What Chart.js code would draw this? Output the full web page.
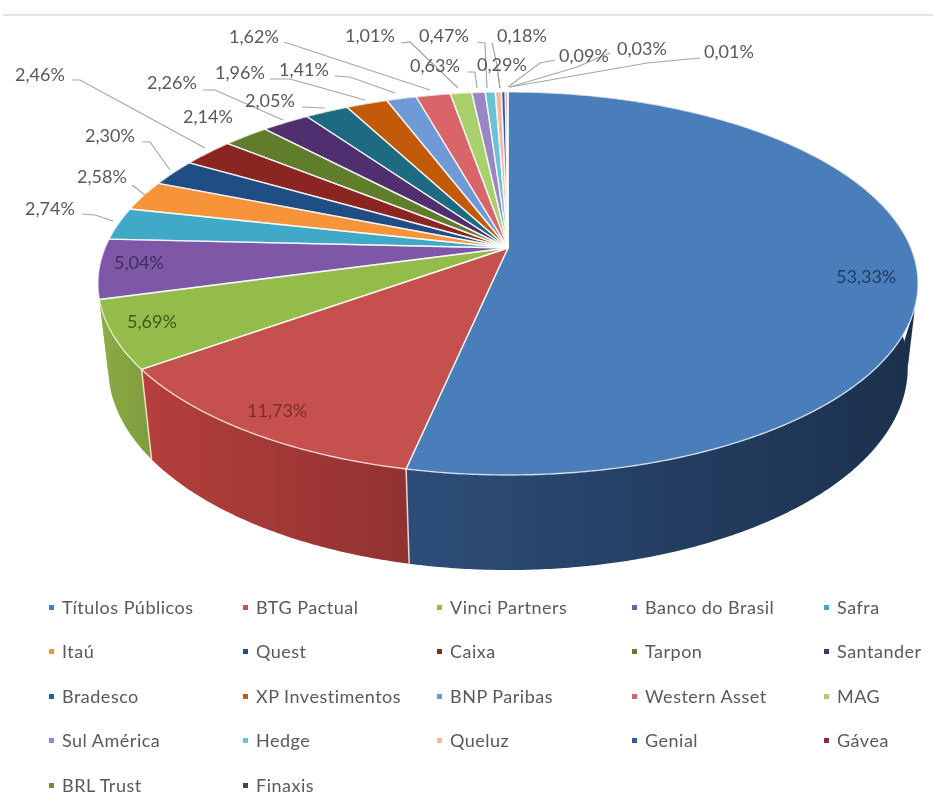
<!DOCTYPE html>
<html>
<head>
<meta charset="utf-8">
<title>Carteira</title>
<script src="https://cdn.jsdelivr.net/npm/chart.js@4"></script>
<style>
    html, body { margin: 0; padding: 0; background: #fff; }
    #wrap { position: relative; width: 933px; height: 792px; overflow: hidden; filter: blur(0.7px); }
    #topRule { position: absolute; left: 3px; right: 0; top: 14px; height: 2px; background: #e4e4e4; }
    #pie { position: absolute; left: 0; top: 0; }
    .leg { position: absolute; font: 18px Lato, sans-serif; letter-spacing: 0.5px; color: #595959; white-space: nowrap; line-height: 20px; }
    .leg i { position: absolute; left: -13px; top: 8px; width: 5px; height: 5px; }
</style>
</head>
<body>
<div id="wrap">
    <div id="topRule"></div>
    <canvas id="pie" width="933" height="792"></canvas>
    <div id="legend"></div>
</div>
<script>
// Values
var categories = ['Títulos Públicos', 'BTG Pactual', 'Vinci Partners', 'Banco do Brasil', 'Safra',
    'Itaú', 'Quest', 'Caixa', 'Tarpon', 'Santander',
    'Bradesco', 'XP Investimentos', 'BNP Paribas', 'Western Asset', 'MAG',
    'Sul América', 'Hedge', 'Queluz', 'Genial', 'Gávea',
    'BRL Trust', 'Finaxis'];
var shares = [53.33, 11.73, 5.69, 5.04, 2.74, 2.58, 2.30, 2.46, 2.14, 2.26, 2.05,
    1.96, 1.41, 1.62, 1.01, 0.63, 0.47, 0.29, 0.18, 0.09, 0.03, 0.01];
var sliceColors = ['#4a7ebb', '#c5504d', '#94bc4b', '#7e57a6', '#40a9c8', '#f79339',
    '#1f4e85', '#8a2522', '#5f7d2b', '#4f2f6f', '#1e6a80', '#c25a0a',
    '#6f9ad6', '#d9646a', '#a9d06a', '#9a85c5', '#6cc0d8', '#f5b8a0',
    '#2f5d9a', '#8a2b3a', '#6f8f3f', '#4d3b62'];

// Side wall shading, left and right end of each visible wall
var sideLeft = ['#2d4d79', '#b53f3c', '#8dab45', '#8dab45'];
var sideRight = ['#1b304c', '#913230', '#7d9c3c', '#8dab45'];

// Where the percentage labels sit (left edge, middle) and the colour they use
var labelX = [836, 247, 127, 114, 25, 77, 85, 15, 183, 147, 245, 215, 279, 229, 345, 410, 419, 477, 497, 559, 617, 704];
var labelY = [277, 411, 322, 263, 209, 177, 136, 75, 117, 83, 101, 73, 70, 37, 36, 66, 36, 65, 36, 56, 49, 52];
var labelInk = { 0: '#1f3a5f', 1: '#7a2e2c', 2: '#3f5a1c', 3: '#3f2d5c' };

// Leader lines, from label to rim
var leaders = [
    [[82, 214], [95, 215], [113, 221]],
    [[132, 185], [145, 195]],
    [[142, 142], [150, 142], [170, 170]],
    [[72, 80], [80, 80], [205, 148]],
    [[203, 90], [215, 90], [283, 120]],
    [[302, 107], [325, 108]],
    [[270, 79], [290, 79], [365, 100]],
    [[335, 76], [350, 77], [395, 93]],
    [[284, 42], [430, 90]],
    [[401, 43], [410, 42], [458, 88]],
    [[467, 72], [475, 72], [477, 88]],
    [[477, 42], [485, 43], [487, 88]],
    [[498, 74], [500, 88]],
    [[492, 43], [496, 60], [500, 88]],
    [[555, 60], [540, 63], [508, 87]],
    [[610, 53], [577, 67], [510, 87]],
    [[700, 58], [647, 63], [510, 87]]
];

// Legend grid
var legendCols = [62, 256, 450, 645, 837];
var legendRows = [597, 641, 686, 730, 775];

// Perspective of the tilted disc
var hub = { x: 508, y: 248 };
var tilt = { a: 403, b: 185, k: 0.185, drop: 85.5, shrink: 0.025 };

function project(angle, lower) {
    var X = Math.cos(angle), Y = Math.sin(angle);
    var w = 1 - tilt.k * Y + (lower ? tilt.shrink : 0);
    return {
        x: hub.x + tilt.a * X / w,
        y: hub.y + (tilt.b * Y + (lower ? tilt.drop : 0)) / w
    };
}

function rimPoints(start, end, lower) {
    var steps = Math.max(2, Math.ceil((end - start) / 0.008));
    var pts = [];
    for (var i = 0; i <= steps; i++) {
        pts.push(project(start + (end - start) * i / steps, lower));
    }
    return pts;
}

function tracePts(ctx, pts) {
    for (var i = 0; i < pts.length; i++) {
        ctx.lineTo(pts[i].x, pts[i].y);
    }
}

var tiltedPie = {
    id: 'tiltedPie',
    beforeDatasetDraw: function (chart) {
        var ctx = chart.ctx;
        var arcs = chart.getDatasetMeta(0).data;
        ctx.save();

        // walls first, the top face covers whatever is behind it
        arcs.forEach(function (arc, i) {
            var top = rimPoints(arc.startAngle, arc.endAngle, false);
            var low = rimPoints(arc.startAngle, arc.endAngle, true).reverse();
            var xs = top.concat(low).map(function (p) { return p.x; });
            var grad = ctx.createLinearGradient(Math.min.apply(null, xs), 0, Math.max.apply(null, xs), 0);
            grad.addColorStop(0, sideLeft[i] || '#555555');
            grad.addColorStop(1, sideRight[i] || '#555555');
            ctx.beginPath();
            ctx.moveTo(top[0].x, top[0].y);
            tracePts(ctx, top);
            tracePts(ctx, low);
            ctx.closePath();
            ctx.fillStyle = grad;
            ctx.fill();
        });

        // the right silhouette runs straight from the rim down to the lower edge
        var c1 = project(Math.asin(0.3), false), c2 = project(Math.asin(0.18), true), c3 = project(Math.asin(0.05), true);
        ctx.beginPath();
        ctx.moveTo(c1.x, c1.y);
        ctx.lineTo(c2.x, c2.y);
        ctx.lineTo(c3.x, c3.y);
        ctx.closePath();
        ctx.fillStyle = sideRight[0];
        ctx.fill();

        // wall seams on the visible front
        ctx.strokeStyle = 'rgba(255,235,225,0.85)';
        ctx.lineWidth = 1.5;
        arcs.forEach(function (arc) {
            if (Math.sin(arc.endAngle) > 0.3) {
                var a = project(arc.endAngle, false), b = project(arc.endAngle, true);
                ctx.beginPath();
                ctx.moveTo(a.x, a.y);
                ctx.lineTo(b.x, b.y);
                ctx.stroke();
            }
        });

        // top face
        arcs.forEach(function (arc, i) {
            ctx.beginPath();
            ctx.moveTo(hub.x, hub.y);
            tracePts(ctx, rimPoints(arc.startAngle, arc.endAngle, false));
            ctx.closePath();
            ctx.fillStyle = sliceColors[i];
            ctx.fill();
        });
        ctx.strokeStyle = 'rgba(255,255,255,0.72)';
        ctx.lineWidth = 1.4;
        ctx.lineJoin = 'round';
        arcs.forEach(function (arc) {
            ctx.beginPath();
            ctx.moveTo(hub.x, hub.y);
            tracePts(ctx, rimPoints(arc.startAngle, arc.endAngle, false));
            ctx.closePath();
            ctx.stroke();
        });

        ctx.restore();
        return false;
    },
    afterDatasetsDraw: function (chart) {
        var ctx = chart.ctx;
        ctx.save();

        ctx.strokeStyle = '#a6a6a6';
        ctx.lineWidth = 1.2;
        leaders.forEach(function (line) {
            ctx.beginPath();
            ctx.moveTo(line[0][0], line[0][1]);
            line.slice(1).forEach(function (p) { ctx.lineTo(p[0], p[1]); });
            ctx.stroke();
        });

        ctx.font = '18px Lato, sans-serif';
        ctx.textBaseline = 'middle';
        ctx.textAlign = 'left';
        shares.forEach(function (v, i) {
            ctx.fillStyle = labelInk[i] || '#595959';
            ctx.fillText(v.toFixed(2).replace('.', ',') + '%', labelX[i], labelY[i]);
        });
        ctx.restore();
    }
};

var pieChart = new Chart(document.getElementById('pie').getContext('2d'), {
    type: 'pie',
    data: {
        labels: categories,
        datasets: [{ data: shares, backgroundColor: sliceColors }]
    },
    options: {
        responsive: false,
        animation: false,
        events: [],
        plugins: {
            legend: { display: false },
            tooltip: { enabled: false }
        }
    },
    plugins: [tiltedPie]
});

// Legend in fixed columns, the built-in one would not line them up
var legendBox = document.getElementById('legend');
pieChart.options.plugins.legend.labels.generateLabels(pieChart).forEach(function (item, i) {
    var row = document.createElement('div');
    row.className = 'leg';
    row.style.left = legendCols[i % 5] + 'px';
    row.style.top = legendRows[Math.floor(i / 5)] + 'px';
    var box = document.createElement('i');
    box.style.background = item.fillStyle;
    row.appendChild(box);
    row.appendChild(document.createTextNode(item.text));
    legendBox.appendChild(row);
});
</script>
</body>
</html>
